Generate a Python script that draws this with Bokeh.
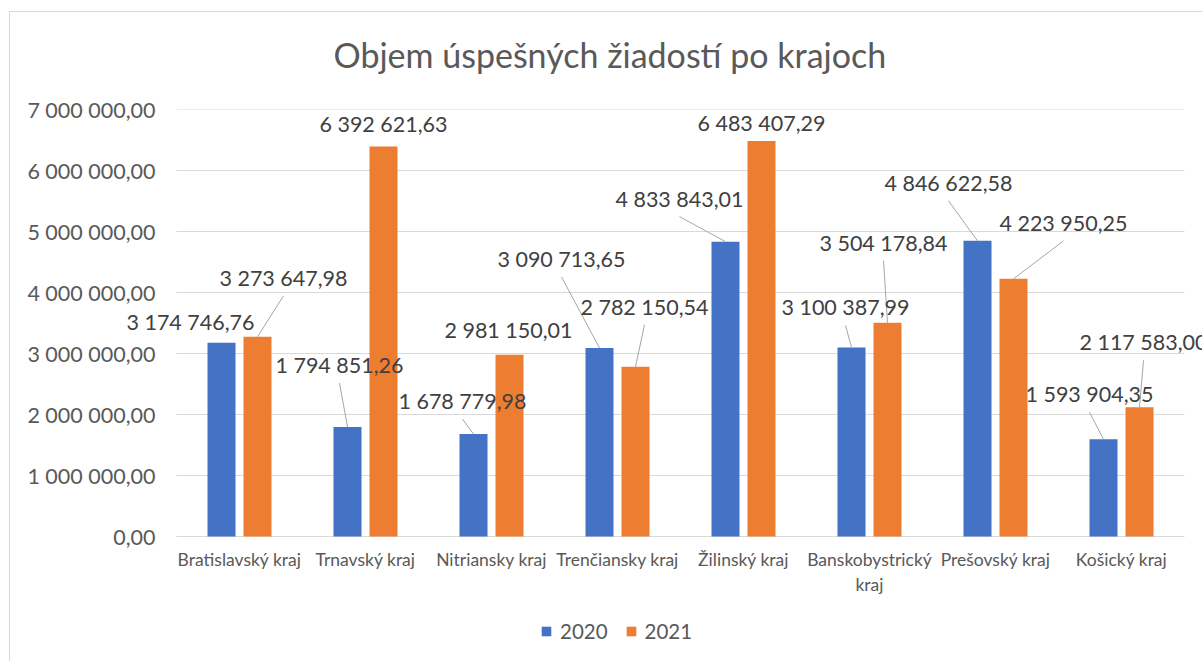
from bokeh.plotting import figure
from bokeh.models import (ColumnDataSource, Range1d, FixedTicker, CustomJSTickFormatter,
                          LabelSet, Legend, LegendItem)
from bokeh.layouts import column
from bokeh.embed import file_html
from bokeh.resources import INLINE
from bokeh.core.properties import value

# ---------------- data ----------------
categories = ["Bratislavský kraj", "Trnavský kraj", "Nitriansky kraj", "Trenčiansky kraj",
              "Žilinský kraj", "Banskobystrický kraj", "Prešovský kraj", "Košický kraj"]
series_names = ["2020", "2021"]
values_2020 = [3174746.76, 1794851.26, 1678779.98, 3090713.65,
               4833843.01, 3100387.99, 4846622.58, 1593904.35]
values_2021 = [3273647.98, 6392621.63, 2981150.01, 2782150.54,
               6483407.29, 3504178.84, 4223950.25, 2117583.00]
y_ticks = [0, 1000000, 2000000, 3000000, 4000000, 5000000, 6000000, 7000000]
category_label_lines = {"Banskobystrický kraj": "Banskobystrický\nkraj"}

# ---------------- label placement (screen px, dy downward) ----------------
label_off_2020 = [(-31, -21), (-8, -62), (-11, -33), (-38, -89),
                  (-46, -43), (-6, -40), (-29, -58), (-14, -45)]
leader_2020 = [False, True, True, True, True, True, True, True]
label_off_2021 = [(26, -59), (0, -23), (-1, -25), (9, -60),
                  (0, -18), (-4, -80), (50, -56), (4, -65)]
leader_2021 = [True, False, False, True, False, True, True, True]

# ---------------- styles / layout ----------------
BLUE = "#4472C4"
ORANGE = "#ED7D31"
GRID = "#D9D9D9"
TEXT = "#595959"
LABEL = "#404040"
FONT = "Lato"

FIG_W, FIG_H = 1192, 648
FRAME_L, FRAME_T = 110, 111          # frame position inside figure
FRAME_B = 2                          # space under the frame
FRAME_W = FIG_W - FRAME_L
FRAME_H = FIG_H - FRAME_T - FRAME_B
PLOT_H = 427                         # px from the 0 line to the top gridline
PLOT_PAD_L = 56                      # px between frame left and first category
PX_X = 126                           # px per category
PX_Y = PLOT_H / y_ticks[-1]          # px per value unit
BAR_W = 28 / PX_X
BAR_SHIFT = 18 / PX_X
LEADER_GAP = 18
X0 = -PLOT_PAD_L / PX_X
X1 = X0 + FRAME_W / PX_X
Y0 = y_ticks[-1] - FRAME_H / PX_Y
ZERO_TO_FRAME_BOTTOM = FRAME_H - PLOT_H


def fmt(v):
    s = f"{v:,.2f}"
    return s.replace(",", " ").replace(".", ",")


p = figure(width=FIG_W, height=FIG_H, output_backend="svg", toolbar_location=None,
           x_range=Range1d(X0, X1), y_range=Range1d(Y0, y_ticks[-1]),
           min_border_left=FRAME_L, min_border_top=FRAME_T,
           min_border_right=0, min_border_bottom=FRAME_B,
           frame_width=FRAME_W, frame_height=FRAME_H,
           title="Objem úspešných žiadostí po krajoch",
           styles={"transform": "translateY(-15px)"})
p.outline_line_color = None
p.background_fill_color = None
p.border_fill_color = None

p.title.text_font = FONT
p.title.text_font_size = "34px"
p.title.text_font_style = "normal"
p.title.text_color = TEXT
p.title.align = "left"
p.title.offset = 213
p.title.standoff = 69

centers = [i + 0.5 for i in range(len(categories))]
x20 = [c - BAR_SHIFT for c in centers]
x21 = [c + BAR_SHIFT for c in centers]

# horizontal gridlines limited to the category area
p.segment(x0=[0] * len(y_ticks), x1=[len(categories)] * len(y_ticks),
          y0=y_ticks, y1=y_ticks, line_color=GRID, line_width=1.2)

r20 = p.vbar(x=x20, top=values_2020, width=BAR_W, color=BLUE, line_color=None)
r21 = p.vbar(x=x21, top=values_2021, width=BAR_W, color=ORANGE, line_color=None)

# leader lines
for xs, vals, offs, leads in [(x20, values_2020, label_off_2020, leader_2020),
                              (x21, values_2021, label_off_2021, leader_2021)]:
    x0, y0, x1, y1 = [], [], [], []
    for x, v, (dx, dy), lead in zip(xs, vals, offs, leads):
        if lead:
            x0.append(x + dx / PX_X)
            y0.append(v - (dy + LEADER_GAP) / PX_Y)
            x1.append(x)
            y1.append(v)
    p.segment(x0=x0, y0=y0, x1=x1, y1=y1, line_color="#A6A6A6", line_width=1)

# data labels
for xs, vals, offs in [(x20, values_2020, label_off_2020), (x21, values_2021, label_off_2021)]:
    src = ColumnDataSource(dict(x=xs, y=vals, t=[fmt(v) for v in vals],
                                xo=[o[0] for o in offs], yo=[-o[1] for o in offs]))
    p.add_layout(LabelSet(x="x", y="y", text="t", source=src, x_offset="xo", y_offset="yo",
                          text_align="center", text_baseline="middle",
                          text_font=value(FONT), text_font_size="21.5px", text_color=LABEL))

# axes
p.xgrid.grid_line_color = None
p.ygrid.grid_line_color = None

p.yaxis.ticker = FixedTicker(ticks=y_ticks)
p.yaxis.formatter = CustomJSTickFormatter(code=r"""
return tick.toFixed(2).replace('.', ',').replace(/\B(?=(\d{3})+(?!\d))/g, ' ');
""")
p.yaxis.axis_line_color = None
p.yaxis.major_tick_line_color = None
p.yaxis.minor_tick_line_color = None
p.yaxis.major_tick_out = 0
p.yaxis.major_tick_in = 0
p.yaxis.major_label_standoff = -35
p.yaxis.major_label_text_font = FONT
p.yaxis.major_label_text_font_size = "21.5px"
p.yaxis.major_label_text_color = TEXT

cat_labels = [category_label_lines.get(c, c) for c in categories]
p.xaxis.ticker = FixedTicker(ticks=centers)
p.xaxis.formatter = CustomJSTickFormatter(args=dict(cats=cat_labels),
                                          code="return cats[Math.floor(tick)];")
p.xaxis.axis_line_color = None
p.xaxis.major_tick_line_color = None
p.xaxis.minor_tick_line_color = None
p.xaxis.major_tick_out = 0
p.xaxis.major_tick_in = 0
p.xaxis.major_label_standoff = 12 - ZERO_TO_FRAME_BOTTOM
p.xaxis.major_label_text_font = FONT
p.xaxis.major_label_text_font_size = "17.5px"
p.xaxis.major_label_text_color = TEXT

legend = Legend(items=[LegendItem(label=series_names[0], renderers=[r20]),
                       LegendItem(label=series_names[1], renderers=[r21])],
                orientation="horizontal", location=(420, 1),
                glyph_width=12, glyph_height=12, label_standoff=8, spacing=17,
                padding=0, margin=0, border_line_color=None, background_fill_alpha=0,
                label_text_font=FONT, label_text_font_size="20.5px", label_text_color=TEXT)
p.add_layout(legend, "center")

layout = column(p, styles={"border-left": "1px solid #D9D9D9",
                           "border-top": "1px solid #D9D9D9",
                           "margin-left": "9px", "margin-top": "11px"})

open("out.html", "w").write(file_html(layout, INLINE))
